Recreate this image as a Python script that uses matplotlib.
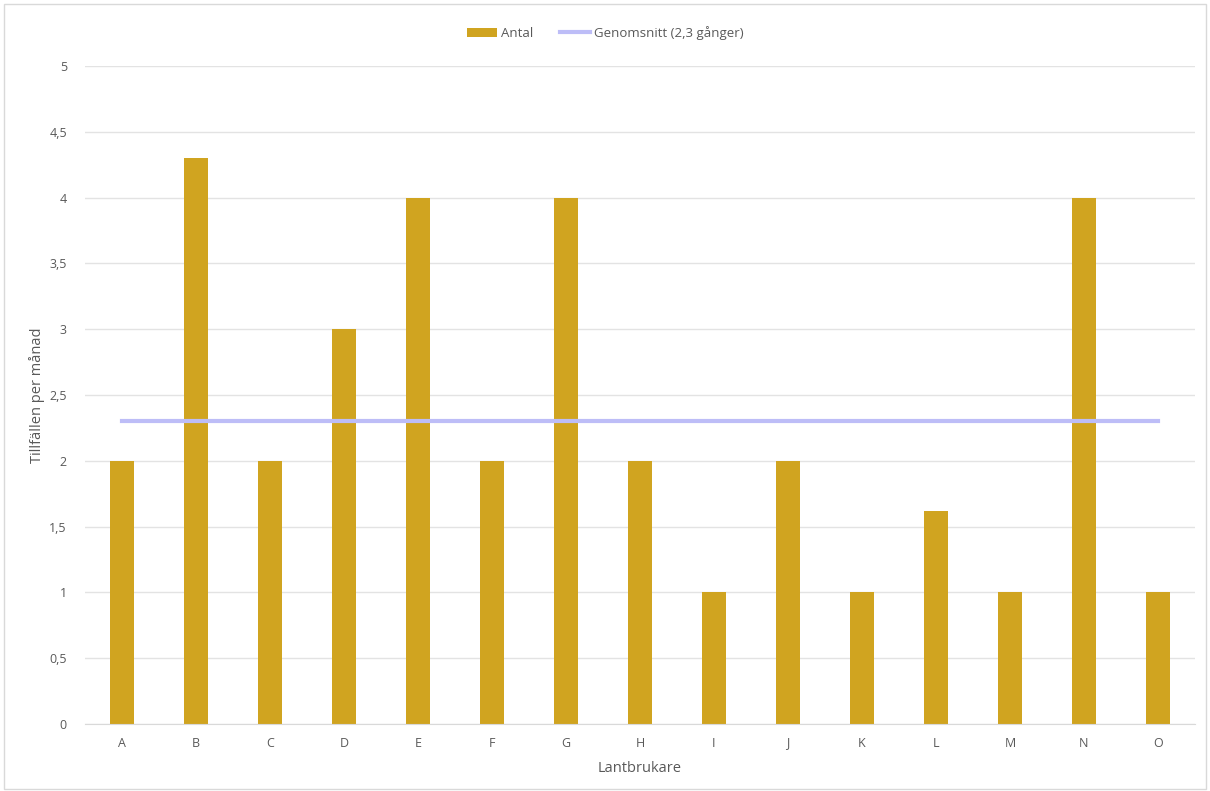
import matplotlib.pyplot as plt
from matplotlib.patches import Rectangle

# Data
farmers = ["A", "B", "C", "D", "E", "F", "G", "H", "I", "J", "K", "L", "M", "N", "O"]
counts = [2, 4.3, 2, 3, 4, 2, 4, 2, 1, 2, 1, 1.62, 1, 4, 1]
average = 2.3
y_ticks = [0, 0.5, 1, 1.5, 2, 2.5, 3, 3.5, 4, 4.5, 5]
y_tick_labels = ["0", "0,5", "1", "1,5", "2", "2,5", "3", "3,5", "4", "4,5", "5"]

bar_color = "#D0A420"
avg_color = "#BDBDF7"
text_color = "#595959"
grid_color = "#E3E3E3"

plt.rcParams['font.family'] = ['Open Sans', 'DejaVu Sans']

fig = plt.figure(figsize=(12.1, 7.91), dpi=100)
ax = fig.add_axes([0.0702, 0.0847, 0.9174, 0.8319])

x = list(range(len(farmers)))
bars = ax.bar(x, counts, width=0.32, color=bar_color, label="Antal", zorder=2)
avg_line, = ax.plot([x[0], x[-1]], [average, average], color=avg_color, lw=3,
                    label="Genomsnitt (2,3 gånger)", zorder=3)

ax.set_xlim(-0.5, len(farmers) - 0.5)
ax.set_ylim(0, 5)
ax.set_yticks(y_ticks)
ax.set_yticklabels(y_tick_labels)
ax.set_xticks(x)
ax.set_xticklabels(farmers)
ax.yaxis.grid(True, color=grid_color, lw=1, zorder=0)
ax.tick_params(axis='both', length=0, colors=text_color, labelsize=9)
ax.tick_params(axis='y', pad=13)
ax.tick_params(axis='x', pad=9)
for side in ["top", "right", "left"]:
    ax.spines[side].set_visible(False)
ax.spines["bottom"].set_color("#D9D9D9")

ax.set_xlabel("Lantbrukare", color=text_color, fontsize=10.5, labelpad=8)
ax.set_ylabel("Tillfällen per månad", color=text_color, fontsize=10.5)
ax.yaxis.set_label_coords(-0.036, 0.5)

leg = fig.legend([bars, avg_line], ["Antal", "Genomsnitt (2,3 gånger)"],
                 loc="upper center", bbox_to_anchor=(0.5, 0.982), ncol=2,
                 frameon=False, fontsize=9.5, handlelength=2.3, handletextpad=0.3,
                 columnspacing=2.0)
for t in leg.get_texts():
    t.set_color(text_color)

# light frame around the chart area
fig.patches.append(Rectangle((0.003, 0.003), 0.994, 0.992, transform=fig.transFigure,
                             fill=False, edgecolor="#D9D9D9", lw=1))

fig.savefig("out.png", dpi=100)
